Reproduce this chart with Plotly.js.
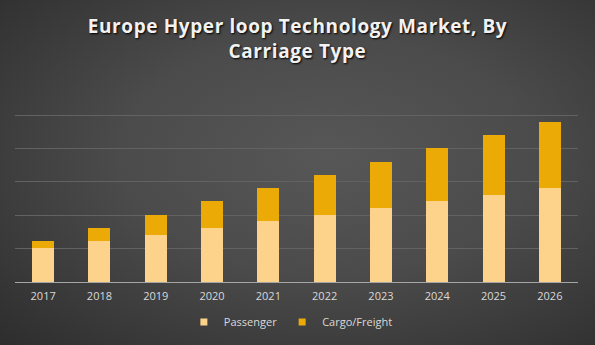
<!DOCTYPE html>
<html>
<head>
<meta charset="utf-8">
<script src="https://cdn.plot.ly/plotly-3.0.1.min.js"></script>
<style>
  html, body { margin: 0; padding: 0; }
  #chart {
    width: 595px; height: 345px;
    background: radial-gradient(ellipse at 55% 45%, #575757 0%, #4b4b4b 45%, #2d2d2d 100%);
  }
  #chart .gtitle { letter-spacing: 0.6px; }
</style>
</head>
<body>
<div id="chart"></div>
<script>
const years = ['2017','2018','2019','2020','2021','2022','2023','2024','2025','2026'];
const passenger = [1.02, 1.22, 1.40, 1.61, 1.82, 2.00, 2.21, 2.42, 2.60, 2.81];
const cargo = [0.20, 0.39, 0.60, 0.81, 0.99, 1.20, 1.38, 1.59, 1.80, 1.99];
const seriesNames = ['Passenger', 'Cargo/Freight'];
const seriesColors = ['#FDD28A', '#EBAA06'];

const traces = [
  { type: 'bar', name: seriesNames[0], x: years, y: passenger,
    marker: { color: seriesColors[0] }, showlegend: false },
  { type: 'bar', name: seriesNames[1], x: years, y: cargo,
    marker: { color: seriesColors[1] }, showlegend: false }
];
// legend-only entries with small square keys (no visible points)
seriesNames.forEach((n, i) => {
  traces.push({
    type: 'scatter', mode: 'markers', name: n, x: [years[0]], y: [null],
    marker: { symbol: 'square', size: 7, color: seriesColors[i] },
    showlegend: true, hoverinfo: 'skip'
  });
});

const layout = {
  width: 595, height: 345,
  paper_bgcolor: 'rgba(0,0,0,0)',
  plot_bgcolor: 'rgba(0,0,0,0)',
  barmode: 'stack',
  bargap: 0.61,
  margin: { l: 15, r: 17, t: 105, b: 63 },
  title: {
    text: 'Europe Hyper loop Technology Market, By<br>Carriage Type',
    font: { family: 'Open Sans, sans-serif', size: 19, color: '#f2f2f2', weight: 'bold',
            shadow: '1px 1px 2px #000' },
    x: 0.5, xanchor: 'center',
    yref: 'container', y: 1 - 33/345, yanchor: 'middle'
  },
  xaxis: {
    type: 'category',
    range: [-0.5, 9.5],
    showgrid: false,
    showline: true, linecolor: '#a6a6a6', linewidth: 1,
    ticks: '', ticklabelstandoff: 4,
    tickfont: { family: 'Open Sans, sans-serif', size: 11, color: '#d9d9d9' },
    zeroline: false
  },
  yaxis: {
    range: [0, 5.3],
    tickmode: 'linear', tick0: 0, dtick: 1,
    showticklabels: false,
    showgrid: true, gridcolor: '#626262', gridwidth: 1,
    zeroline: false
  },
  showlegend: true,
  legend: {
    orientation: 'h', x: 0.49, xanchor: 'center',
    yref: 'container', y: 1 - 322/345, yanchor: 'middle',
    traceorder: 'normal',
    font: { family: 'Open Sans, sans-serif', size: 11, color: '#d9d9d9' },
    itemwidth: 30
  }
};

Plotly.newPlot('chart', traces, layout, { displayModeBar: false, staticPlot: true });
</script>
</body>
</html>
